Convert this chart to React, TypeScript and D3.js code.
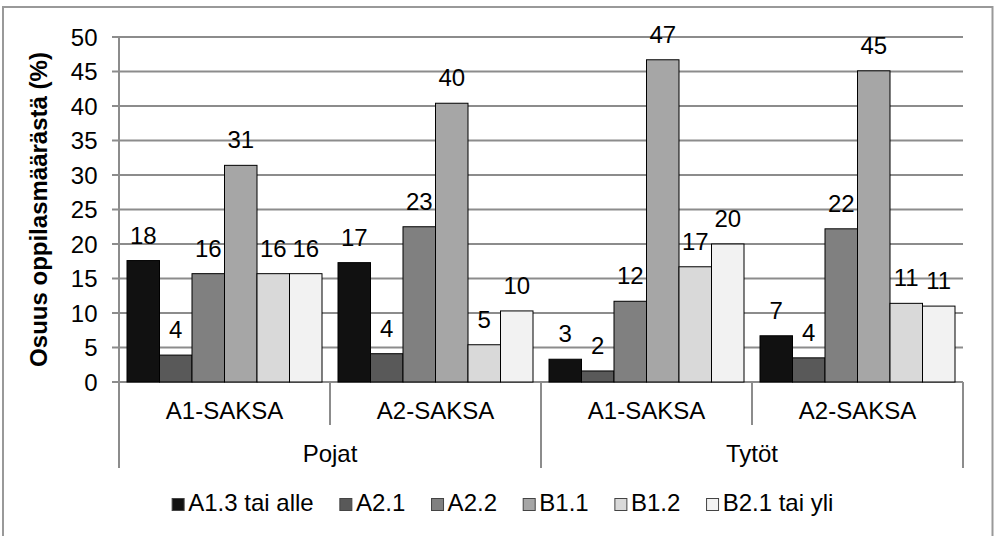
import React, { useEffect, useRef } from "react";
import * as d3 from "d3";

const outerCategories = ["Pojat", "Tytöt"];
const innerCategories = ["A1-SAKSA", "A2-SAKSA"];
const seriesNames = ["A1.3 tai alle", "A2.1", "A2.2", "B1.1", "B1.2", "B2.1 tai yli"];
const seriesColors = ["#111111", "#595959", "#808080", "#a6a6a6", "#d9d9d9", "#f2f2f2"];
// values per group (Pojat A1, Pojat A2, Tytöt A1, Tytöt A2), per series
const valuesPojatA1 = [17.6, 3.9, 15.7, 31.4, 15.7, 15.7];
const valuesPojatA2 = [17.3, 4.1, 22.5, 40.4, 5.4, 10.3];
const valuesTytotA1 = [3.3, 1.6, 11.7, 46.7, 16.7, 20.0];
const valuesTytotA2 = [6.7, 3.5, 22.2, 45.1, 11.4, 11.0];
const yTicks = [0, 5, 10, 15, 20, 25, 30, 35, 40, 45, 50];
const yTitle = "Osuus oppilasmäärästä (%)";

const W = 994;
const H = 536;
const FONT = "'Liberation Sans', Arial, sans-serif";
const FS = 24;

export default function App() {
  const legendRef = useRef<SVGGElement>(null);

  const groups = [
    { outer: outerCategories[0], inner: innerCategories[0], values: valuesPojatA1 },
    { outer: outerCategories[0], inner: innerCategories[1], values: valuesPojatA2 },
    { outer: outerCategories[1], inner: innerCategories[0], values: valuesTytotA1 },
    { outer: outerCategories[1], inner: innerCategories[1], values: valuesTytotA2 },
  ];
  const groupKeys = groups.map((g, i) => String(i));

  const x0 = d3.scaleBand<string>().domain(groupKeys).range([119, 963]).padding(0);
  const gw = x0.bandwidth();
  const x1 = d3.scaleBand<string>().domain(seriesNames).range([8, gw - 8]).padding(0);
  const y = d3.scaleLinear().domain([0, 50]).range([382, 37]);

  const outerX = d3.scaleBand<string>().domain(outerCategories).range([119, 963]).padding(0);

  useEffect(() => {
    const g = d3.select(legendRef.current);
    g.selectAll("*").remove();
    const sq = 13;
    const gapText = 3.6;
    const spacing = 25.7;
    const items = g
      .selectAll("g.item")
      .data(seriesNames)
      .join("g")
      .attr("class", "item");
    items
      .append("text")
      .text((d) => d)
      .attr("font-family", FONT)
      .attr("font-size", FS)
      .attr("fill", "#000");
    const widths: number[] = [];
    items.select("text").each(function () {
      widths.push((this as SVGTextElement).getComputedTextLength());
    });
    const totals = widths.map((w) => sq + gapText + w);
    const total = d3.sum(totals) + spacing * (totals.length - 1);
    let cx = 502.5 - total / 2;
    items.each(function (d, i) {
      const it = d3.select(this);
      it.attr("transform", `translate(${cx},0)`);
      it.insert("rect", "text")
        .attr("x", 0.5)
        .attr("y", 498.5)
        .attr("width", sq - 1)
        .attr("height", sq - 1)
        .attr("fill", seriesColors[i])
        .attr("stroke", "#444")
        .attr("stroke-width", 1);
      it.select("text").attr("x", sq + gapText).attr("y", 511);
      cx += totals[i] + spacing;
    });
  }, []);

  return (
    <svg
      width={W}
      height={H}
      style={{ position: "absolute", left: 0, top: 0, background: "#fff" }}
    >
      <rect x={0} y={0} width={W} height={H} fill="#fff" />
      <rect x={3} y={7} width={989.5} height={540} fill="none" stroke="#999" strokeWidth={2} />

      {/* gridlines */}
      {yTicks.map((t) => (
        <line
          key={"g" + t}
          x1={112}
          x2={963}
          y1={y(t)}
          y2={y(t)}
          stroke="#8c8c8c"
          strokeWidth={2}
        />
      ))}
      {/* y axis line */}
      <line x1={119} x2={119} y1={37} y2={382} stroke="#8c8c8c" strokeWidth={2} />

      {/* tick labels */}
      {yTicks.map((t) => (
        <text
          key={"t" + t}
          x={97.5}
          y={y(t) + 8.5}
          textAnchor="end"
          fontFamily={FONT}
          fontSize={FS}
          fill="#000"
        >
          {t}
        </text>
      ))}

      {/* y title */}
      <text
        transform={`translate(47,${(37 + 382) / 2}) rotate(-90)`}
        textAnchor="middle"
        fontFamily={FONT}
        fontSize={FS}
        fontWeight="bold"
        fill="#000"
      >
        {yTitle}
      </text>

      {/* bars */}
      {groups.map((g, gi) => (
        <g key={"grp" + gi} transform={`translate(${x0(String(gi))},0)`}>
          {g.values.map((v, si) => (
            <rect
              key={si}
              x={x1(seriesNames[si])}
              y={y(v)}
              width={x1.bandwidth()}
              height={y(0) - y(v)}
              fill={seriesColors[si]}
              stroke="#000"
              strokeWidth={1}
            />
          ))}
          {g.values.map((v, si) => (
            <text
              key={"l" + si}
              x={(x1(seriesNames[si]) as number) + x1.bandwidth() / 2}
              y={y(v) - 17}
              textAnchor="middle"
              fontFamily={FONT}
              fontSize={FS}
              fill="#000"
            >
              {Math.round(v)}
            </text>
          ))}
        </g>
      ))}

      {/* category axis lines */}
      {groupKeys.map((k, i) => (
        <line
          key={"d" + k}
          x1={(x0(k) as number) + gw}
          x2={(x0(k) as number) + gw}
          y1={382}
          y2={i % 2 === 0 ? 425 : 468}
          stroke="#8c8c8c"
          strokeWidth={2}
        />
      ))}
      <line x1={119} x2={119} y1={382} y2={468} stroke="#8c8c8c" strokeWidth={2} />
      {groups.map((g, gi) => (
        <text
          key={"c" + gi}
          x={(x0(String(gi)) as number) + gw / 2}
          y={419.3}
          textAnchor="middle"
          fontFamily={FONT}
          fontSize={FS}
          fill="#000"
        >
          {g.inner}
        </text>
      ))}
      {outerCategories.map((o) => (
        <text
          key={"o" + o}
          x={(outerX(o) as number) + outerX.bandwidth() / 2}
          y={461.7}
          textAnchor="middle"
          fontFamily={FONT}
          fontSize={FS}
          fill="#000"
        >
          {o}
        </text>
      ))}

      <g ref={legendRef} />
    </svg>
  );
}
